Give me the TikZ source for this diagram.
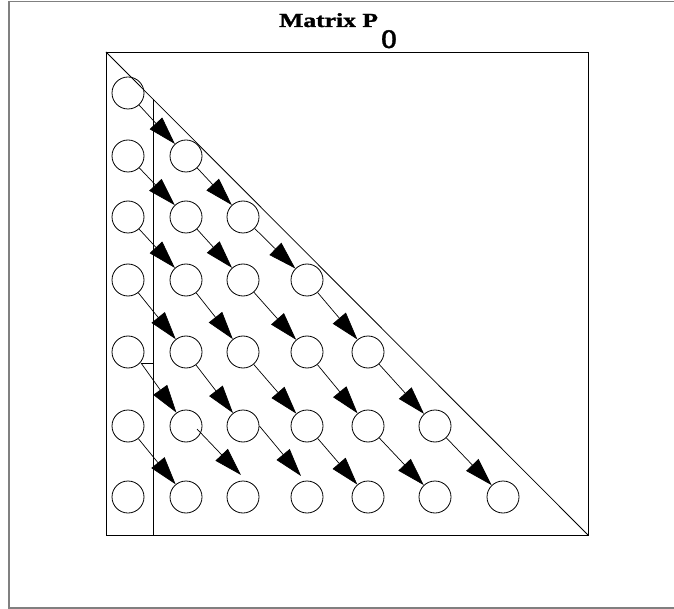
\documentclass[tikz,border=0pt]{standalone}
\usepackage{fontspec}
\setmainfont{Liberation Serif}
\newfontfamily\heavyfont{Liberation Serif}[BoldFeatures={FakeBold=1.2}]
\usetikzlibrary{arrows.meta}

\begin{document}
\begin{tikzpicture}[
    x=1pt, y=-1pt,
    every node/.style={inner sep=0pt},
    cell/.style={circle, draw, line width=0.8pt, minimum size=32pt},
    frame/.style={draw=gray, line width=1.6pt},
    edge/.style={line width=0.8pt},
    arrow/.style={line width=0.7pt, -{Triangle[length=28pt, width=17pt]}}
  ]
  \useasboundingbox (0,0) rectangle (674,609);

  % outer frame and title
  \draw[frame] (674,1.5) -- (9,1.5) -- (9,608) -- (674,608);
  \node[anchor=base west] (title) at (279,27)
    {\scalebox{1.28}[1]{\heavyfont\bfseries\fontsize{20}{20}\selectfont Matrix P}};
  \node[anchor=base west] (sub) at (381,48)
    {\scalebox{0.74}[1]{\heavyfont\bfseries\fontsize{27}{27}\selectfont O}};

  % matrix outline
  \coordinate (tl) at (106,52);
  \coordinate (tr) at (588,52);
  \coordinate (br) at (588,535);
  \coordinate (bl) at (106,535);
  \coordinate (vtop) at (153,99);
  \coordinate (vbot) at (153,535);
  \coordinate (tick) at (141,363);
  \coordinate (tickend) at (153,363);
  \draw[edge] (tl) -- (tr) -- (br) -- (bl) -- cycle;
  \draw[edge] (tl) -- (br);
  \draw[edge] (vtop) -- (vbot);
  \draw[edge] (tick) -- (tickend);

  % entries
  \node[cell] (c11) at (128,93) {};
  \node[cell] (c21) at (128,156) {};
  \node[cell] (c22) at (186,156) {};
  \node[cell] (c31) at (128,217) {};
  \node[cell] (c32) at (186,217) {};
  \node[cell] (c33) at (243,217) {};
  \node[cell] (c41) at (128,280) {};
  \node[cell] (c42) at (186,280) {};
  \node[cell] (c43) at (243,280) {};
  \node[cell] (c44) at (307,280) {};
  \node[cell] (c51) at (128,352) {};
  \node[cell] (c52) at (186,352) {};
  \node[cell] (c53) at (243,352) {};
  \node[cell] (c54) at (307,352) {};
  \node[cell] (c55) at (368,352) {};
  \node[cell] (c61) at (128,426) {};
  \node[cell] (c62) at (186,426) {};
  \node[cell] (c63) at (243,426) {};
  \node[cell] (c64) at (307,426) {};
  \node[cell] (c65) at (368,426) {};
  \node[cell] (c66) at (435,426) {};
  \node[cell] (c71) at (128,497) {};
  \node[cell] (c72) at (186,497) {};
  \node[cell] (c73) at (243,497) {};
  \node[cell] (c74) at (307,497) {};
  \node[cell] (c75) at (368,497) {};
  \node[cell] (c76) at (435,497) {};
  \node[cell] (c77) at (503,497) {};

  % odd arrow ends
  \coordinate (s62) at (197,429);
  \coordinate (e62) at (241,475);
  \coordinate (e63) at (301,476);

  % diagonal moves
  \draw[arrow] (c11) -- (c22);
  \draw[arrow] (c21) -- (c32);
  \draw[arrow] (c22) -- (c33);
  \draw[arrow] (c31) -- (c42);
  \draw[arrow] (c32) -- (c43);
  \draw[arrow] (c33) -- (c44);
  \draw[arrow] (c41) -- (c52);
  \draw[arrow] (c42) -- (c53);
  \draw[arrow] (c43) -- (c54);
  \draw[arrow] (c44) -- (c55);
  \draw[arrow] (tick) -- (c62);
  \draw[arrow] (c52) -- (c63);
  \draw[arrow] (c53) -- (c64);
  \draw[arrow] (c54) -- (c65);
  \draw[arrow] (c55) -- (c66);
  \draw[arrow] (c61) -- (c72);
  \draw[arrow] (s62) -- (e62);
  \draw[arrow] (c63.east) -- (e63);
  \draw[arrow] (c64) -- (c75);
  \draw[arrow] (c65) -- (c76);
  \draw[arrow] (c66) -- (c77);

\end{tikzpicture}
\end{document}
